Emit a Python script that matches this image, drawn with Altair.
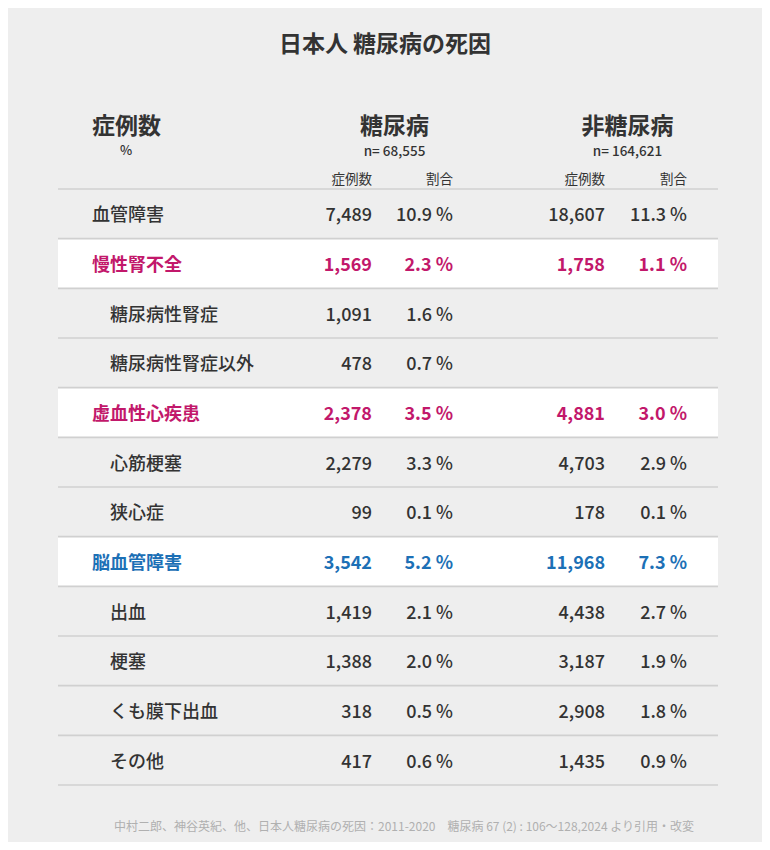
import altair as alt
import pandas as pd

FONT = "Noto Sans CJK JP"
DARK = "#333333"

# ---- data ----
title_text = "日本人 糖尿病の死因"
corner_header = "症例数"
corner_sub = "%"
group_names = ["糖尿病", "非糖尿病"]
group_n = [68555, 164621]
sub_headers = ["症例数", "割合"]
footer_text = "中村二郎、神谷英紀、他、日本人糖尿病の死因：2011-2020　糖尿病 67 (2) : 106〜128,2024 より引用・改変"

labels = ["血管障害", "慢性腎不全", "糖尿病性腎症", "糖尿病性腎症以外", "虚血性心疾患", "心筋梗塞",
          "狭心症", "脳血管障害", "出血", "梗塞", "くも膜下出血", "その他"]
levels = [0, 0, 1, 1, 0, 1, 1, 0, 1, 1, 1, 1]
kinds = ["normal", "renal", "normal", "normal", "heart", "normal", "normal", "brain",
         "normal", "normal", "normal", "normal"]
dm_n = [7489, 1569, 1091, 478, 2378, 2279, 99, 3542, 1419, 1388, 318, 417]
dm_pct = [10.9, 2.3, 1.6, 0.7, 3.5, 3.3, 0.1, 5.2, 2.1, 2.0, 0.5, 0.6]
non_n = [18607, 1758, None, None, 4881, 4703, 178, 11968, 4438, 3187, 2908, 1435]
non_pct = [11.3, 1.1, None, None, 3.0, 2.9, 0.1, 7.3, 2.7, 1.9, 1.8, 0.9]

rows = pd.DataFrame({
    "label": labels,
    "level": levels,
    "kind": kinds,
    "row": list(range(len(labels))),
    "dm_n_t": [f"{v:,}" for v in dm_n],
    "dm_p_t": [f"{v:.1f} %" for v in dm_pct],
    "non_n_t": [f"{v:,}" if v is not None else "" for v in non_n],
    "non_p_t": [f"{v:.1f} %" if v is not None else "" for v in non_pct],
})
rows["y0"] = rows["row"] - 0.5
rows["y1"] = rows["row"] + 0.5
rows["hl"] = rows["kind"] != "normal"

edges = pd.DataFrame({"edge": [i - 0.5 for i in range(len(labels) + 1)]})

yscale = alt.Scale(domain=[-0.5, len(labels) - 0.5], range=[181, 777], zero=False, nice=False)
color_scale = alt.Scale(domain=["normal", "renal", "heart", "brain"],
                        range=[DARK, "#c2186b", "#c2186b", "#1c70b6"])

base = alt.Chart(rows)

bands = base.transform_filter("datum.hl").mark_rect(color="white").encode(
    x=alt.value(50), x2=alt.value(710),
    y=alt.Y("y0:Q", scale=yscale, axis=None), y2="y1:Q")

rules = alt.Chart(edges).mark_rule(color="#d0d0d0", strokeWidth=1.6).encode(
    x=alt.value(50), x2=alt.value(710),
    y=alt.Y("edge:Q", scale=yscale, axis=None))


def col_text(field, x, align, flt, weight, indent_filter=None):
    ch = base.transform_filter(flt)
    if indent_filter is not None:
        ch = ch.transform_filter(indent_filter)
    return ch.mark_text(font=FONT, fontSize=18, fontWeight=weight, align=align, baseline="middle", dy=2.5).encode(
        x=alt.value(x),
        y=alt.Y("row:Q", scale=yscale, axis=None),
        text=f"{field}:N",
        color=alt.Color("kind:N", scale=color_scale, legend=None),
    )


layers = [bands, rules]
for flt, weight in [("datum.hl", "bold"), ("!datum.hl", 500)]:
    layers.append(col_text("label", 84, "left", flt, weight, "datum.level == 0"))
    layers.append(col_text("label", 102, "left", flt, weight, "datum.level == 1"))
    layers.append(col_text("dm_n_t", 364, "right", flt, weight))
    layers.append(col_text("dm_p_t", 445, "right", flt, weight))
    layers.append(col_text("non_n_t", 597, "right", flt, weight))
    layers.append(col_text("non_p_t", 679, "right", flt, weight))


def label(text, x, y, size, weight="normal", align="center", color=DARK):
    return alt.Chart(pd.DataFrame({"t": [text]})).mark_text(
        font=FONT, fontSize=size, fontWeight=weight, align=align, baseline="middle", color=color
    ).encode(x=alt.value(x), y=alt.value(y), text="t:N")


layers += [
    label(title_text, 377, 37, 23, "bold"),
    label(corner_header, 84, 118.5, 23, "bold", "left"),
    label(corner_sub, 118, 143, 13, 500),
]
group_x = [386.5, 619.5]
for name, n, gx in zip(group_names, group_n, group_x):
    layers.append(label(name, gx, 118.5, 23, "bold"))
    layers.append(label(f"n= {n:,}", gx, 143.5, 13.5, 500))
sub_x = [364, 445, 597, 679]
for i, sx in enumerate(sub_x):
    layers.append(label(sub_headers[i % 2], sx, 172, 13.5, "normal", "right"))
layers.append(label(footer_text, 396, 819, 12, "normal", "center", "#b0b0b0"))

chart = alt.layer(*layers).properties(
    width=754, height=834, padding=0, autosize="none", background="#eeeeee"
).configure_view(stroke=None)

chart.save("out.html", embed_options={"renderer": "svg", "actions": False})
